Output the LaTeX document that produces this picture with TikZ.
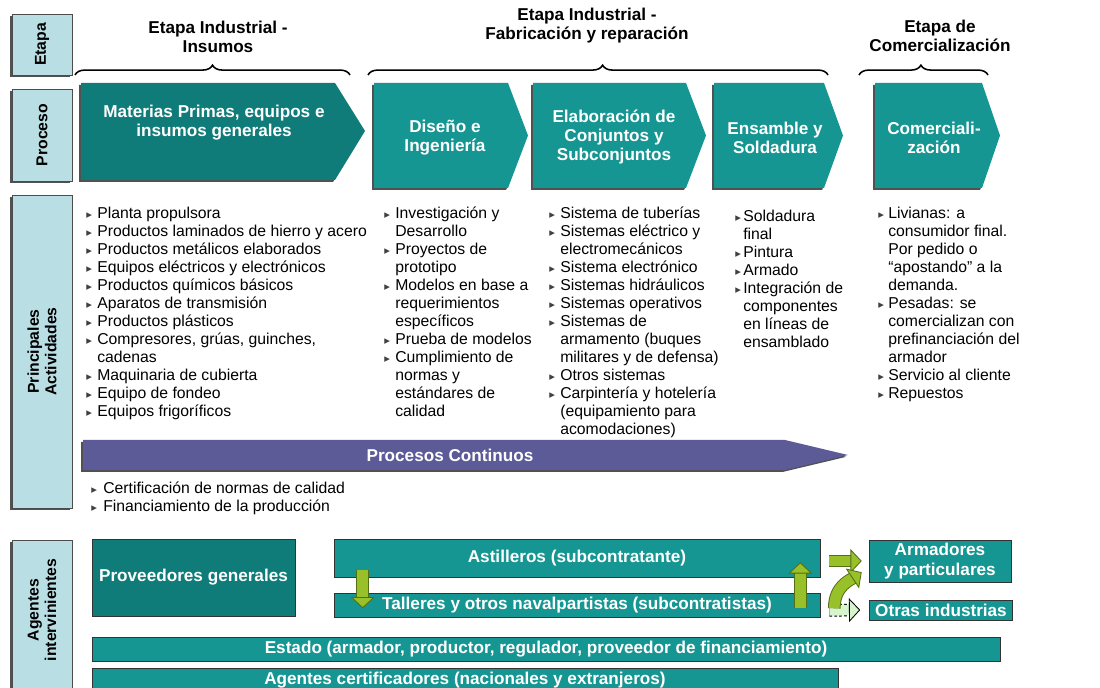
\documentclass[tikz,border=0pt]{standalone}
\usepackage{fontspec}
\setmainfont{Liberation Sans}
\newfontfamily\symfont{DejaVu Sans}
\usetikzlibrary{positioning,calc,shadows,decorations.pathreplacing,arrows.meta}

\newlength\pix
\setlength\pix{0.025cm}

\definecolor{celeste}{RGB}{185,222,228}
\definecolor{petroleo}{RGB}{16,124,121}
\definecolor{turquesa}{RGB}{22,150,146}
\definecolor{violeta}{RGB}{92,91,152}
\definecolor{verde}{RGB}{152,192,40}
\definecolor{verdeosc}{RGB}{84,110,24}
\definecolor{verdeclaro}{RGB}{214,244,206}

% vineta de las listas
\newcommand\vin{\leavevmode{\symfont\fontsize{8}{8}\selectfont\color{black!75}▸}}

\begin{document}
\begin{tikzpicture}[x=0.025cm, y=-0.025cm,
    sombra/.style={drop shadow={shadow xshift=-1.3pt, shadow yshift=-1.3pt, opacity=0.85, fill=black!80}},
    caja/.style={draw=black!70, fill=celeste, sombra, inner sep=0pt, minimum width=60*\pix},
    rotulo/.style={rotate=90, align=center, font=\bfseries\fontsize{11.2}{12.4}\selectfont},
    titulo/.style={align=center, font=\bfseries\fontsize{12.2}{13.5}\selectfont},
    llave/.style={decorate, line width=1.1pt, decoration={brace, amplitude=7pt}},
    proc/.style={text=white, align=center, font=\bfseries\fontsize{12.2}{13.6}\selectfont},
    lista/.style={anchor=north west, inner sep=0pt, font=\fontsize{11.2}{12.8}\selectfont},
    agente/.style={draw=black!80, fill=turquesa, text=white, inner sep=0pt, align=center,
                   font=\bfseries\fontsize{12.2}{14}\selectfont},
    flecha/.style={draw=verde, line width=7.6pt,
                   -{Triangle[length=8pt, width=17pt, fill=verde, color=verdeosc, line width=0.6pt]},
                   preaction={draw=verdeosc, line width=9pt, arrows=-, shorten >=7pt}},
    flechaclara/.style={draw=verdeclaro, line width=7.6pt,
                   -{Triangle[length=8pt, width=17pt, fill=verdeclaro, color=black, line width=0.6pt]},
                   preaction={draw=black, line width=9pt, dash pattern=on 2pt off 1.5pt, arrows=-, shorten >=7pt}}]

\useasboundingbox (0,0) rectangle (1100,688);
\fill[white] (0,0) rectangle (1100,688);

% columna de rotulos
\node[caja, minimum height=61*\pix] (etapa) at (42,44.5) {};
\node[rotulo] (t-etapa) at (etapa) {Etapa};
\node[caja, minimum height=92*\pix] (proceso) at (42,135) {};
\node[rotulo] (t-proceso) at (proceso) {Proceso};
\node[caja, minimum height=313*\pix] (activ) at (42,351.5) {};
\node[rotulo] (t-activ) at (activ) {Principales\\Actividades};
\node[caja, minimum height=156*\pix] (agentes) at (42,618) {};
\node[rotulo] (t-agentes) at (42,610) {Agentes\\intervinientes};

% etapas
\node[titulo] (h-insumos) at (218,37) {Etapa Industrial -\\Insumos};
\node[titulo] (h-fabric) at (587,26) {Etapa Industrial -\\Fabricación y reparación};
\node[titulo] (h-comerc) at (940,36) {Etapa de\\Comercialización};

\draw[llave, decoration={aspect=0.5}] (75,75) -- (350,75);
\draw[llave, decoration={aspect=0.51}] (368,75) -- (828,75);
\draw[llave, decoration={aspect=0.48}] (859,75) -- (988,75);

% procesos
\fill[petroleo, sombra] (81,83) -- (335,83) -- (365,131) -- (335,180) -- (81,180) -- cycle;
\node[proc] (materias) at (214,122.5) {Materias Primas, equipos e\\insumos generales};
\fill[turquesa, sombra] (374,83) -- (508,83) -- (528,135.5) -- (508,188) -- (374,188) -- cycle;
\node[proc] (diseno) at (445,138) {Diseño e\\Ingeniería};
\fill[turquesa, sombra] (533,83) -- (686,83) -- (706,135.5) -- (686,188) -- (533,188) -- cycle;
\node[proc] (elabor) at (614,137) {Elaboración de\\Conjuntos y\\Subconjuntos};
\fill[turquesa, sombra] (714,83) -- (824,83) -- (843,135.5) -- (824,188) -- (714,188) -- cycle;
\node[proc] (ensamble) at (775,138) {Ensamble y\\Soldadura};
\fill[turquesa, sombra] (875,83) -- (982,83) -- (1000,135.5) -- (982,188) -- (875,188) -- cycle;
\node[proc] (comerc) at (934,138) {Comerciali-\\zación};

% actividades
\node[lista] (l-insumos) at (86,206) {\begin{tabular}{@{}p{11\pix}@{}l@{}}
\vin & Planta propulsora\\
\vin & Productos laminados de hierro y acero\\
\vin & Productos metálicos elaborados\\
\vin & Equipos eléctricos y electrónicos\\
\vin & Productos químicos básicos\\
\vin & Aparatos de transmisión\\
\vin & Productos plásticos\\
\vin & Compresores, grúas, guinches,\\
     & cadenas\\
\vin & Maquinaria de cubierta\\
\vin & Equipo de fondeo\\
\vin & Equipos frigoríficos
\end{tabular}};

\node[lista] (l-diseno) at (384,206) {\begin{tabular}{@{}p{11\pix}@{}l@{}}
\vin & Investigación y\\
     & Desarrollo\\
\vin & Proyectos de\\
     & prototipo\\
\vin & Modelos en base a\\
     & requerimientos\\
     & específicos\\
\vin & Prueba de modelos\\
\vin & Cumplimiento de\\
     & normas y\\
     & estándares de\\
     & calidad
\end{tabular}};

\node[lista] (l-elabor) at (549,206) {\begin{tabular}{@{}p{11\pix}@{}l@{}}
\vin & Sistema de tuberías\\
\vin & Sistemas eléctrico y\\
     & electromecánicos\\
\vin & Sistema electrónico\\
\vin & Sistemas hidráulicos\\
\vin & Sistemas operativos\\
\vin & Sistemas de\\
     & armamento (buques\\
     & militares y de defensa)\\
\vin & Otros sistemas\\
\vin & Carpintería y hotelería\\
     & (equipamiento para\\
     & acomodaciones)
\end{tabular}};

\node[lista] (l-ensamble) at (735,209) {\begin{tabular}{@{}p{8\pix}@{}l@{}}
\vin & Soldadura\\
     & final\\
\vin & Pintura\\
\vin & Armado\\
\vin & Integración de\\
     & componentes\\
     & en líneas de\\
     & ensamblado
\end{tabular}};

\node[lista] (l-comerc) at (878,206) {\begin{tabular}{@{}p{10\pix}@{}l@{}}
\vin & Livianas: a\\
     & consumidor final.\\
     & Por pedido o\\
     & “apostando” a la\\
     & demanda.\\
\vin & Pesadas: se\\
     & comercializan con\\
     & prefinanciación del\\
     & armador\\
\vin & Servicio al cliente\\
\vin & Repuestos
\end{tabular}};

% procesos continuos
\fill[violeta, sombra] (83,440) -- (785,440) -- (848,455) -- (785,470) -- (83,470) -- cycle;
\node[proc] (continuos) at (450,455) {Procesos Continuos};
\node[lista] (l-continuos) at (91,481) {\begin{tabular}{@{}p{12\pix}@{}l@{}}
\vin & Certificación de normas de calidad\\
\vin & Financiamiento de la producción
\end{tabular}};

% agentes
\node[agente, fill=petroleo, minimum width=203*\pix, minimum height=77*\pix] (proveed) at (193.5,577.5) {Proveedores generales};
\node[agente, minimum width=486*\pix, minimum height=38*\pix] (asti) at (577,558) {Astilleros (subcontratante)};
\node[agente, minimum width=486*\pix, minimum height=24*\pix] (talleres) at (577,605) {Talleres y otros navalpartistas (subcontratistas)};
\node[agente, minimum width=142*\pix, minimum height=42*\pix] (armad) at (940,561) {Armadores\\y particulares};
\node[agente, minimum width=143*\pix, minimum height=20*\pix] (otras) at (941,610) {Otras industrias};
\node[agente, minimum width=908*\pix, minimum height=24*\pix] (estado) at (546,649) {Estado (armador, productor, regulador, proveedor de financiamiento)};
\node[agente, minimum width=746*\pix, minimum height=25*\pix] (certif) at (465,680.5) {Agentes certificadores (nacionales y extranjeros)};

\draw[flecha] ($(asti.south west)+(29,-7)$) -- ($(talleres.south west)+(29,-9)$);
\draw[flecha] ($(talleres.south east)+(-20,-9)$) -- ($(asti.south east)+(-20,-15)$);
\draw[flecha] ($(asti.east)+(9,3)$) -- ($(armad.west)+(-7,0)$);
\draw[flechaclara] ($(talleres.south east)+(9,-7)$) -- ($(otras.west)+(-9,0)$);
\draw[flecha] ($(talleres.south east)+(14,-9)$) .. controls +(0,-22) and +(-12,8) .. ($(armad.south west)+(-7,-10)$);
\end{tikzpicture}
\end{document}
